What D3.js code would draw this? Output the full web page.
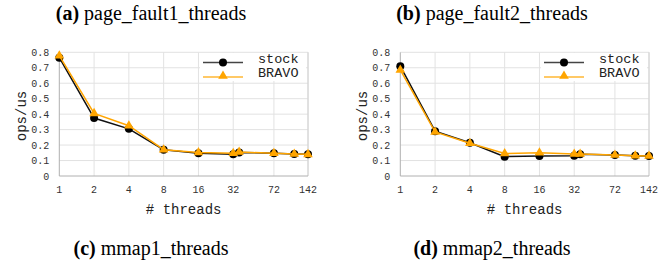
<!DOCTYPE html>
<html>
<head>
<meta charset="utf-8">
<script src="https://cdn.jsdelivr.net/npm/d3@7"></script>
<style>
  body { margin: 0; background: #fff; }
  svg { display: block; }
</style>
</head>
<body>
<div id="chart"></div>
<script>
// thread counts where points were measured, and the labelled ticks
var threads = [1, 2, 4, 8, 16, 32, 36, 72, 108, 142];
var threadTicks = [1, 2, 4, 8, 16, 32, 72, 142];
var yTicks = [0, 0.1, 0.2, 0.3, 0.4, 0.5, 0.6, 0.7, 0.8];
var seriesNames = ["stock", "BRAVO"];

// (a) page_fault1_threads
var pf1Stock = [0.765, 0.375, 0.305, 0.17, 0.147, 0.14, 0.152, 0.147, 0.142, 0.14];
var pf1Bravo = [0.778, 0.405, 0.325, 0.17, 0.152, 0.147, 0.155, 0.147, 0.142, 0.14];
// (b) page_fault2_threads
var pf2Stock = [0.71, 0.29, 0.215, 0.125, 0.129, 0.131, 0.14, 0.136, 0.131, 0.129];
var pf2Bravo = [0.686, 0.285, 0.212, 0.145, 0.15, 0.142, 0.142, 0.136, 0.131, 0.129];

var topTitles = [["(a)", " page_fault1_threads"], ["(b)", " page_fault2_threads"]];
var bottomTitles = [["(c)", " mmap1_threads"], ["(d)", " mmap2_threads"]];

var W = 668, H = 265;
var svg = d3.select("#chart").append("svg")
    .attr("width", W).attr("height", H);

var panelOffset = 341;
var plotL = 59.3, plotR = 308, plotT = 52.3, plotB = 176;
var mono = "'Liberation Mono', 'DejaVu Sans Mono', monospace";
var serif = "'Liberation Serif', 'DejaVu Serif', serif";

function drawPanel(i, stock, bravo) {
    var g = svg.append("g").attr("transform", "translate(" + (i * panelOffset) + ",0)");

    var x = d3.scaleLog().base(2).domain([1, 142]).range([plotL, plotR]);
    var y = d3.scaleLinear().domain([0, 0.8]).range([plotB, plotT]);

    // grid
    g.append("g").selectAll("line").data(yTicks.slice(1)).enter().append("line")
        .attr("x1", plotL).attr("x2", plotR)
        .attr("y1", d => y(d)).attr("y2", d => y(d))
        .attr("stroke", "#e2e2e2").attr("stroke-width", 1);
    g.append("g").selectAll("line").data(threadTicks.slice(1)).enter().append("line")
        .attr("x1", d => x(d)).attr("x2", d => x(d))
        .attr("y1", plotT).attr("y2", plotB)
        .attr("stroke", "#e2e2e2").attr("stroke-width", 1);
    // frame
    g.append("line").attr("x1", plotR).attr("x2", plotR).attr("y1", plotT).attr("y2", plotB)
        .attr("stroke", "#d0d0d0");
    g.append("line").attr("x1", plotL).attr("x2", plotL).attr("y1", plotT).attr("y2", plotB)
        .attr("stroke", "#b0b0b0");
    g.append("line").attr("x1", plotL).attr("x2", plotR).attr("y1", plotB).attr("y2", plotB)
        .attr("stroke", "#b0b0b0");

    // tick labels
    g.append("g").selectAll("text").data(yTicks).enter().append("text")
        .attr("x", plotL - 10).attr("y", d => y(d) + 3.5)
        .attr("text-anchor", "end")
        .style("font-family", mono).style("font-size", "10px").style("fill", "#333")
        .text(d => d === 0 ? "0" : d.toFixed(1));
    g.append("g").selectAll("text").data(threadTicks).enter().append("text")
        .attr("x", d => x(d)).attr("y", 193)
        .attr("text-anchor", "middle")
        .style("font-family", mono).style("font-size", "10px").style("fill", "#333")
        .text(d => d);

    // axis titles
    g.append("text")
        .attr("x", (plotL + plotR) / 2).attr("y", 214)
        .attr("text-anchor", "middle")
        .style("font-family", mono).style("font-size", "14px").style("fill", "#222")
        .text("# threads");
    g.append("text")
        .attr("transform", "translate(26,116) rotate(-90)")
        .attr("text-anchor", "middle")
        .style("font-family", mono).style("font-size", "14px").style("fill", "#222")
        .text("ops/us");

    var line = d3.line().x((d, k) => x(threads[k])).y(d => y(d));

    // stock
    g.append("path").datum(stock).attr("d", line)
        .attr("fill", "none").attr("stroke", "#111").attr("stroke-width", 1.5);
    g.append("g").selectAll("circle").data(stock).enter().append("circle")
        .attr("cx", (d, k) => x(threads[k])).attr("cy", d => y(d))
        .attr("r", 4).attr("fill", "#000");

    // BRAVO
    var tri = d3.symbol().type(d3.symbolTriangle).size(40);
    g.append("path").datum(bravo).attr("d", line)
        .attr("fill", "none").attr("stroke", "#ffa500").attr("stroke-width", 1.5);
    g.append("g").selectAll("path").data(bravo).enter().append("path")
        .attr("d", tri)
        .attr("transform", (d, k) => "translate(" + x(threads[k]) + "," + y(d) + ")")
        .attr("fill", "#ffa500");

    // legend
    var lg = g.append("g");
    lg.append("rect").attr("x", 200).attr("y", 53).attr("width", 106).attr("height", 28)
        .attr("fill", "#fff");
    var rows = [62.5, 77];
    lg.append("line").attr("x1", 203).attr("x2", 243).attr("y1", rows[0]).attr("y2", rows[0])
        .attr("stroke", "#444").attr("stroke-width", 1.5);
    lg.append("circle").attr("cx", 223).attr("cy", rows[0]).attr("r", 4).attr("fill", "#000");
    lg.append("line").attr("x1", 203).attr("x2", 243).attr("y1", rows[1]).attr("y2", rows[1])
        .attr("stroke", "#ffb733").attr("stroke-width", 1.5);
    lg.append("path").attr("d", tri)
        .attr("transform", "translate(223," + (rows[1] - 1) + ")").attr("fill", "#ffa500");
    lg.selectAll("text").data(seriesNames).enter().append("text")
        .attr("x", 258).attr("y", (d, k) => rows[k])
        .style("font-family", mono).style("font-size", "13.5px").style("fill", "#222")
        .text(d => d);
}

drawPanel(0, pf1Stock, pf1Bravo);
drawPanel(1, pf2Stock, pf2Bravo);

function drawTitle(t, cx, by) {
    var txt = svg.append("text").attr("x", cx).attr("y", by)
        .attr("text-anchor", "middle")
        .style("font-family", serif).style("font-size", "20px").style("fill", "#000");
    txt.append("tspan").style("font-weight", "bold").text(t[0]);
    txt.append("tspan").text(t[1]);
}
topTitles.forEach((t, i) => drawTitle(t, 151 + i * panelOffset, 20));
bottomTitles.forEach((t, i) => drawTitle(t, 151 + i * panelOffset, 255));
</script>
</body>
</html>
